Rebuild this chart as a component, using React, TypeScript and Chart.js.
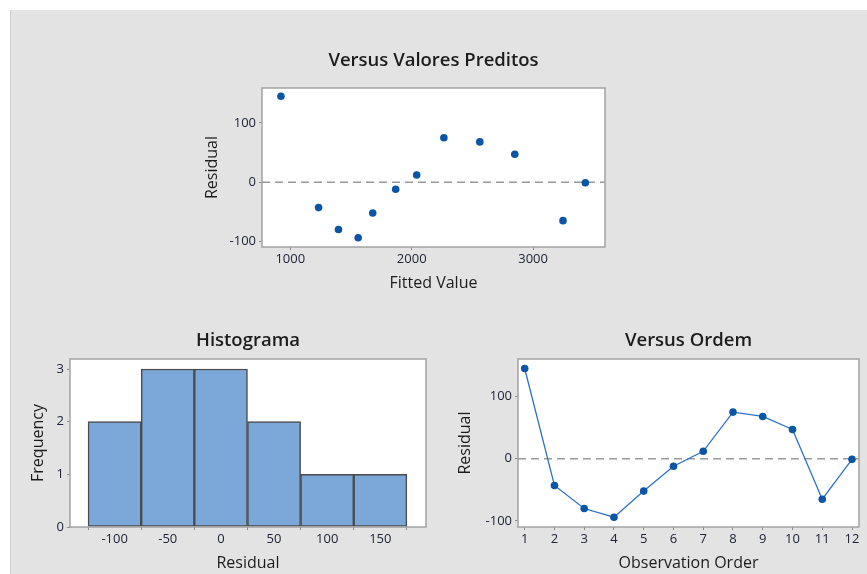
import { useEffect, useRef } from "react";
import { Chart, registerables } from "chart.js";

Chart.register(...registerables);

// Residual diagnostics: 12 observations in run order
const observationOrder = [1, 2, 3, 4, 5, 6, 7, 8, 9, 10, 11, 12];
const fittedValues = [923, 1233, 1397, 1559, 1679, 1868, 2041, 2265, 2561, 2849, 3246, 3430];
const residuals = [145, -43, -80, -94, -52, -12, 12, 75, 68, 47, -65, -1];

// Histogram of residuals (bin centres, width 50)
const histBinCenters = [-100, -50, 0, 50, 100, 150];
const histFrequencies = [2, 3, 3, 2, 1, 1];

// Tick values
const fittedTicks = [1000, 2000, 3000];
const residualTicks = [-100, 0, 100];
const frequencyTicks = [0, 1, 2, 3];
const residualBinTicks = [-100, -50, 0, 50, 100, 150];
const orderTicks = observationOrder;

const FONT = "'Open Sans', 'Noto Sans', sans-serif";
const TEXT = "#1c1c1c";
const TICK_TEXT = "#202436";
const POINT_BLUE = "#0b55a6";
const LINE_BLUE = "#2f72c4";
const BAR_FILL = "#7ba7d9";
const BAR_EDGE = "#4b4b4b";
const FRAME = "#a3a3a3";

type PanelOpts = { title: string; titleGap: number; zeroLine?: boolean };

// White plot area, grey frame, dashed reference line at zero and a panel title
const panelFrame = {
  id: "panelFrame",
  beforeDraw(chart: any) {
    const { ctx, chartArea: a } = chart;
    ctx.save();
    ctx.fillStyle = "#ffffff";
    ctx.fillRect(a.left, a.top, a.right - a.left, a.bottom - a.top);
    ctx.restore();
  },
  beforeDatasetsDraw(chart: any, _args: any, opts: PanelOpts) {
    if (!opts.zeroLine) return;
    const { ctx, chartArea: a } = chart;
    const y = chart.scales.y.getPixelForValue(0);
    ctx.save();
    ctx.strokeStyle = "#9a9a9a";
    ctx.lineWidth = 1.5;
    ctx.setLineDash([8, 5]);
    ctx.beginPath();
    ctx.moveTo(a.left, y);
    ctx.lineTo(a.right, y);
    ctx.stroke();
    ctx.restore();
  },
  afterDraw(chart: any, _args: any, opts: PanelOpts) {
    const { ctx, chartArea: a } = chart;
    ctx.save();
    ctx.strokeStyle = FRAME;
    ctx.lineWidth = 1.5;
    ctx.strokeRect(a.left, a.top, a.right - a.left, a.bottom - a.top);
    ctx.fillStyle = TEXT;
    ctx.font = `600 18.5px ${FONT}`;
    ctx.textAlign = "center";
    ctx.textBaseline = "middle";
    ctx.fillText(opts.title, (a.left + a.right) / 2, a.top - opts.titleGap);
    ctx.restore();
  },
};

function axis(
  position: "left" | "bottom",
  min: number,
  max: number,
  tickValues: number[],
  title: string,
  fitSize: number,
  titlePad: number
) {
  return {
    type: "linear" as const,
    position,
    min,
    max,
    offset: false,
    afterBuildTicks: (s: any) => {
      s.ticks = tickValues.map((value) => ({ value }));
    },
    afterFit: (s: any) => {
      if (position === "left") s.width = fitSize;
      else s.height = fitSize;
    },
    grid: {
      display: true,
      drawOnChartArea: false,
      drawTicks: true,
      tickLength: 3,
      color: "#8a8a8a",
    },
    border: { display: false },
    ticks: {
      color: TICK_TEXT,
      padding: position === "left" ? 3 : 1,
      font: { family: FONT, size: 13 },
      maxRotation: 0,
      autoSkip: false,
      callback: (v: any) => String(v),
    },
    title: {
      display: true,
      text: title,
      color: TEXT,
      font: { family: FONT, size: 16 },
      padding: position === "left" ? { top: titlePad, bottom: 0 } : { top: 0, bottom: titlePad },
    },
  };
}

function Panel({
  left,
  top,
  width,
  height,
  build,
}: {
  left: number;
  top: number;
  width: number;
  height: number;
  build: () => any;
}) {
  const ref = useRef<HTMLCanvasElement | null>(null);
  useEffect(() => {
    if (!ref.current) return;
    const chart = new Chart(ref.current, build());
    return () => chart.destroy();
  }, []);
  return (
    <canvas
      ref={ref}
      width={width}
      height={height}
      style={{ position: "absolute", left, top, width, height }}
    />
  );
}

const baseOptions = (padTop: number, padRight: number) => ({
  responsive: false,
  animation: false as const,
  devicePixelRatio: 1,
  layout: { padding: { top: padTop, right: padRight, bottom: 0, left: 0 } },
});

const hidden = { legend: { display: false }, tooltip: { enabled: false }, title: { display: false } };

const fittedChart = () => ({
  type: "scatter",
  data: {
    datasets: [
      {
        data: fittedValues.map((x, i) => ({ x, y: residuals[i] })),
        backgroundColor: POINT_BLUE,
        borderColor: POINT_BLUE,
        pointRadius: 3.8,
        borderWidth: 0,
      },
    ],
  },
  options: {
    ...baseOptions(58, 15),
    plugins: {
      ...hidden,
      panelFrame: { title: "Versus Valores Preditos", titleGap: 27, zeroLine: true },
    },
    scales: {
      x: axis("bottom", 767, 3592, fittedTicks, "Fitted Value", 63, 17),
      y: axis("left", -109.5, 159, residualTicks, "Residual", 82, 23),
    },
  },
  plugins: [panelFrame],
});

const histogramChart = () => ({
  type: "bar",
  data: {
    datasets: [
      {
        data: histBinCenters.map((x, i) => ({ x, y: histFrequencies[i] })),
        backgroundColor: BAR_FILL,
        borderColor: BAR_EDGE,
        borderWidth: 1.5,
        borderSkipped: false,
        barPercentage: 1,
        categoryPercentage: 1,
      },
    ],
  },
  options: {
    ...baseOptions(39, 14),
    plugins: {
      ...hidden,
      panelFrame: { title: "Histograma", titleGap: 18, zeroLine: false },
    },
    scales: {
      x: axis("bottom", -142, 193, residualBinTicks, "Residual", 47, 1),
      y: axis("left", 0, 3.19, frequencyTicks, "Frequency", 60, 19),
    },
  },
  plugins: [panelFrame],
});

const orderChart = () => ({
  type: "line",
  data: {
    datasets: [
      {
        data: observationOrder.map((x, i) => ({ x, y: residuals[i] })),
        borderColor: LINE_BLUE,
        borderWidth: 1.3,
        backgroundColor: POINT_BLUE,
        pointBackgroundColor: POINT_BLUE,
        pointBorderColor: POINT_BLUE,
        pointBorderWidth: 0,
        pointRadius: 3.8,
        tension: 0,
        fill: false,
      },
    ],
  },
  options: {
    ...baseOptions(39, 8),
    plugins: {
      ...hidden,
      panelFrame: { title: "Versus Ordem", titleGap: 18, zeroLine: true },
    },
    scales: {
      x: axis("bottom", 0.775, 12.235, orderTicks, "Observation Order", 47, 1),
      y: axis("left", -109.7, 160.3, residualTicks, "Residual", 78, 16),
    },
  },
  plugins: [panelFrame],
});

export default function App() {
  return (
    <div
      style={{
        position: "fixed",
        left: 0,
        top: 0,
        width: 867,
        height: 574,
        background: "#ffffff",
        overflow: "hidden",
      }}
    >
      <div
        style={{
          position: "absolute",
          left: 10,
          top: 10,
          width: 857,
          height: 564,
          background: "#e3e3e3",
          borderLeft: "1px solid #cdcdcd",
          boxSizing: "border-box",
        }}
      />
      <Panel left={180} top={30} width={440} height={280} build={fittedChart} />
      <Panel left={10} top={320} width={430} height={254} build={histogramChart} />
      <Panel left={440} top={320} width={427} height={254} build={orderChart} />
    </div>
  );
}
